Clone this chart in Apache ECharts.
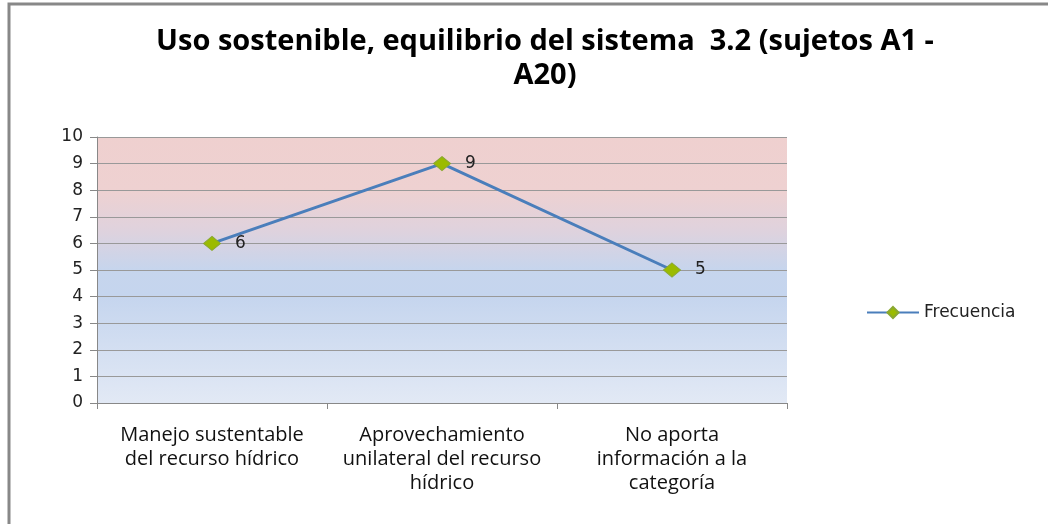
<!DOCTYPE html>
<html>
<head>
<meta charset="utf-8">
<script src="https://cdn.jsdelivr.net/npm/echarts@6/dist/echarts.min.js"></script>
<style>
  html, body { margin: 0; padding: 0; background: #fff; }
  #chart { width: 1048px; height: 524px; }
</style>
</head>
<body>
<div id="chart"></div>
<script>
const titleText = 'Uso sostenible, equilibrio del sistema  3.2 (sujetos A1 -\nA20)';
const categories = [
  'Manejo sustentable\ndel recurso hídrico',
  'Aprovechamiento\nunilateral del recurso\nhídrico',
  'No aporta\ninformación a la\ncategoría'
];
const frecuencia = [6, 9, 5];
const yTicks = { min: 0, max: 10, interval: 1 };

const labelFont = '"DejaVu Sans", Verdana, sans-serif';
const catFont = '"Open Sans", sans-serif';

const chart = echarts.init(document.getElementById('chart'));
chart.setOption({
  backgroundColor: '#fff',
  animation: false,
  title: {
    text: titleText,
    left: 540,
    textAlign: 'center',
    top: 20,
    textStyle: {
      fontFamily: catFont,
      fontWeight: 'bold',
      fontSize: 29,
      lineHeight: 34,
      color: '#000'
    }
  },
  legend: {
    data: ['Frecuencia'],
    left: 861,
    top: 299,
    itemWidth: 52,
    itemHeight: 14,
    itemGap: 4,
    textStyle: { fontFamily: labelFont, fontSize: 17, color: '#222' }
  },
  grid: {
    left: 97, right: 261, top: 137, bottom: 121,
    show: true,
    borderWidth: 0,
    backgroundColor: new echarts.graphic.LinearGradient(0, 0, 0, 1, [
      { offset: 0, color: '#efd0cf' },
      { offset: 0.2, color: '#eed1d1' },
      { offset: 0.35, color: '#dfd2dd' },
      { offset: 0.5, color: '#c6d5ed' },
      { offset: 0.6, color: '#c5d5ee' },
      { offset: 1, color: '#e2e9f5' }
    ])
  },
  xAxis: {
    type: 'category',
    data: categories,
    boundaryGap: true,
    axisLine: { lineStyle: { color: '#888', width: 1 } },
    axisTick: { show: true, length: 6, lineStyle: { color: '#888' } },
    axisLabel: {
      fontFamily: catFont,
      fontSize: 20,
      lineHeight: 24,
      color: '#111',
      margin: 20,
      interval: 0
    }
  },
  yAxis: {
    type: 'value',
    min: yTicks.min,
    max: yTicks.max,
    interval: yTicks.interval,
    axisLine: { show: true, lineStyle: { color: '#888', width: 1 } },
    axisTick: { show: true, length: 7, lineStyle: { color: '#888' } },
    splitLine: { lineStyle: { color: '#999', width: 1 } },
    axisLabel: {
      fontFamily: labelFont,
      fontSize: 17,
      color: '#222',
      margin: 14
    }
  },
  series: [
    {
      name: 'Frecuencia',
      type: 'line',
      data: frecuencia,
      symbol: 'diamond',
      symbolSize: [17, 14],
      lineStyle: { color: '#4a7ebb', width: 3 },
      itemStyle: { color: '#9bbb00', borderColor: '#8aa832', borderWidth: 1 },
      label: {
        show: true,
        position: 'right',
        distance: 14,
        fontFamily: labelFont,
        fontSize: 17,
        color: '#222'
      }
    }
  ],
  graphic: [
    {
      type: 'rect',
      shape: { x: 9, y: 4, width: 1050, height: 540 },
      style: { fill: 'none', stroke: '#888', lineWidth: 3 },
      silent: true
    }
  ]
});
</script>
</body>
</html>
